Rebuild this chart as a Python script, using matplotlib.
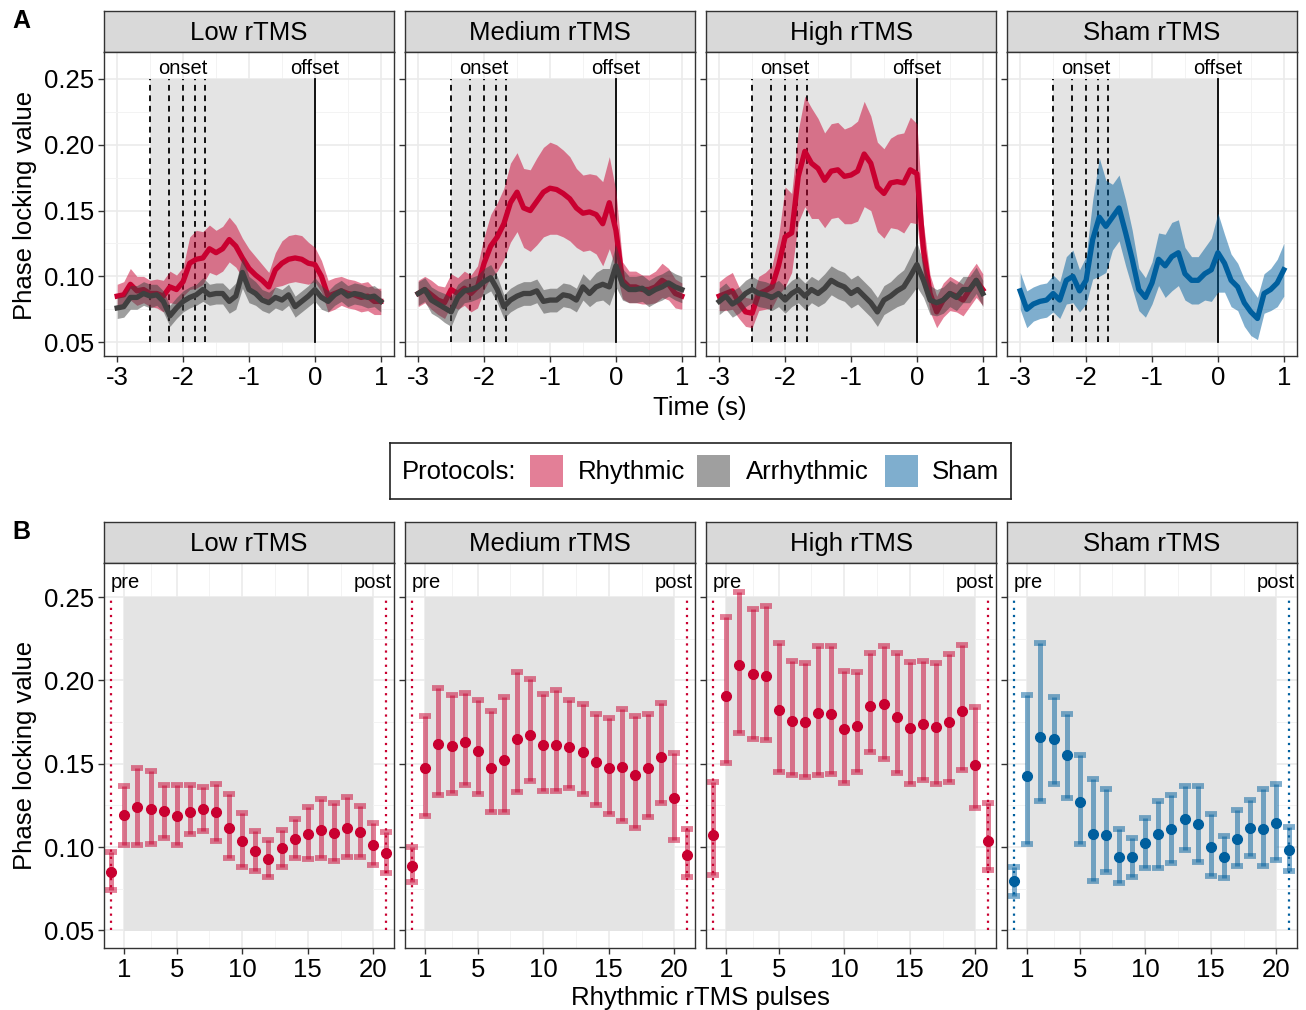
import matplotlib.pyplot as plt
from matplotlib.patches import Rectangle
import numpy as np

plt.rcParams['font.family'] = ['Liberation Sans', 'DejaVu Sans']
plt.rcParams['axes.unicode_minus'] = False

# ---------------- data ----------------
panels = ['Low rTMS', 'Medium rTMS', 'High rTMS', 'Sham rTMS']
time = np.round(np.arange(-3.0, 1.001, 0.1), 1)
onset_times = [-2.5, -2.22, -2.0, -1.82, -1.67]

# panel A: mean PLV and half-width of the ribbon
low_rhy = [0.085, 0.086, 0.094, 0.089, 0.090, 0.087, 0.087, 0.085, 0.092, 0.090, 0.096,
           0.110, 0.113, 0.114, 0.121, 0.118, 0.121, 0.128, 0.123, 0.114, 0.106,
           0.101, 0.097, 0.092, 0.105, 0.110, 0.113, 0.114, 0.113, 0.110, 0.109,
           0.100, 0.085, 0.087, 0.089, 0.087, 0.086, 0.084, 0.085, 0.081, 0.081]
low_rhy_se = [0.009, 0.010, 0.012, 0.011, 0.010, 0.010, 0.011, 0.012, 0.012, 0.011, 0.011,
              0.020, 0.022, 0.020, 0.018, 0.017, 0.017, 0.017, 0.016, 0.015, 0.015,
              0.014, 0.012, 0.011, 0.013, 0.017, 0.018, 0.018, 0.018, 0.016, 0.013,
              0.012, 0.012, 0.012, 0.011, 0.011, 0.011, 0.011, 0.011, 0.010, 0.010]
low_arr = [0.076, 0.077, 0.084, 0.084, 0.087, 0.085, 0.086, 0.081, 0.070, 0.076, 0.081,
           0.084, 0.086, 0.090, 0.086, 0.087, 0.087, 0.081, 0.085, 0.103, 0.090,
           0.087, 0.082, 0.080, 0.084, 0.082, 0.086, 0.077, 0.081, 0.085, 0.090,
           0.084, 0.081, 0.086, 0.089, 0.085, 0.087, 0.086, 0.084, 0.085, 0.081]
low_arr_se = [0.008, 0.008, 0.009, 0.009, 0.009, 0.009, 0.008, 0.008, 0.008, 0.008, 0.008,
              0.008, 0.008, 0.009, 0.008, 0.008, 0.008, 0.009, 0.010, 0.012, 0.010,
              0.009, 0.008, 0.008, 0.008, 0.008, 0.008, 0.008, 0.008, 0.008, 0.009,
              0.009, 0.008, 0.008, 0.008, 0.008, 0.008, 0.008, 0.008, 0.008, 0.008]

med_rhy = [0.087, 0.090, 0.086, 0.082, 0.080, 0.090, 0.087, 0.091, 0.087, 0.092, 0.110,
           0.123, 0.130, 0.140, 0.156, 0.164, 0.152, 0.150, 0.157, 0.164, 0.167,
           0.166, 0.163, 0.159, 0.152, 0.148, 0.149, 0.147, 0.140, 0.156, 0.135,
           0.097, 0.092, 0.092, 0.090, 0.090, 0.092, 0.097, 0.094, 0.087, 0.085]
med_rhy_se = [0.010, 0.010, 0.011, 0.011, 0.012, 0.012, 0.012, 0.013, 0.014, 0.016, 0.020,
              0.024, 0.026, 0.027, 0.030, 0.030, 0.030, 0.031, 0.033, 0.034, 0.035,
              0.034, 0.033, 0.032, 0.030, 0.029, 0.029, 0.030, 0.032, 0.035, 0.030,
              0.014, 0.012, 0.012, 0.011, 0.011, 0.012, 0.013, 0.012, 0.011, 0.010]
med_arr = [0.087, 0.090, 0.082, 0.079, 0.076, 0.073, 0.084, 0.089, 0.090, 0.092, 0.096,
           0.099, 0.090, 0.077, 0.082, 0.085, 0.087, 0.087, 0.089, 0.081, 0.082,
           0.082, 0.086, 0.085, 0.082, 0.092, 0.087, 0.092, 0.094, 0.092, 0.108,
           0.094, 0.090, 0.090, 0.091, 0.087, 0.090, 0.092, 0.095, 0.092, 0.090]
med_arr_se = [0.009, 0.009, 0.010, 0.010, 0.011, 0.011, 0.010, 0.009, 0.009, 0.009, 0.010,
              0.010, 0.010, 0.009, 0.009, 0.009, 0.009, 0.009, 0.009, 0.009, 0.009,
              0.009, 0.009, 0.009, 0.009, 0.010, 0.010, 0.011, 0.012, 0.014, 0.016,
              0.012, 0.010, 0.010, 0.010, 0.010, 0.010, 0.010, 0.010, 0.010, 0.010]

high_rhy = [0.085, 0.087, 0.089, 0.080, 0.073, 0.072, 0.087, 0.089, 0.092, 0.108, 0.130,
            0.133, 0.176, 0.195, 0.186, 0.182, 0.173, 0.180, 0.181, 0.176, 0.177,
            0.180, 0.193, 0.186, 0.168, 0.163, 0.171, 0.172, 0.171, 0.181, 0.178,
            0.120, 0.087, 0.073, 0.082, 0.087, 0.085, 0.082, 0.090, 0.097, 0.090]
high_rhy_se = [0.011, 0.013, 0.014, 0.012, 0.011, 0.011, 0.013, 0.014, 0.016, 0.022, 0.038,
               0.030, 0.035, 0.042, 0.042, 0.038, 0.036, 0.036, 0.036, 0.036, 0.037,
               0.038, 0.040, 0.036, 0.034, 0.034, 0.034, 0.036, 0.038, 0.040, 0.038,
               0.020, 0.014, 0.012, 0.013, 0.013, 0.012, 0.012, 0.013, 0.013, 0.012]
high_arr = [0.081, 0.085, 0.079, 0.082, 0.087, 0.090, 0.087, 0.086, 0.084, 0.087, 0.082,
            0.087, 0.090, 0.085, 0.090, 0.087, 0.091, 0.097, 0.094, 0.092, 0.087,
            0.090, 0.085, 0.080, 0.073, 0.082, 0.085, 0.089, 0.092, 0.100, 0.109,
            0.097, 0.082, 0.080, 0.082, 0.087, 0.084, 0.090, 0.090, 0.097, 0.087]
high_arr_se = [0.010, 0.010, 0.010, 0.010, 0.010, 0.010, 0.010, 0.010, 0.010, 0.010, 0.010,
               0.010, 0.010, 0.010, 0.010, 0.010, 0.011, 0.011, 0.011, 0.011, 0.011,
               0.011, 0.011, 0.011, 0.011, 0.011, 0.011, 0.012, 0.013, 0.015, 0.017,
               0.013, 0.011, 0.010, 0.010, 0.010, 0.010, 0.010, 0.010, 0.010, 0.010]

sham = [0.089, 0.075, 0.079, 0.081, 0.082, 0.087, 0.082, 0.097, 0.100, 0.089, 0.097,
        0.128, 0.145, 0.138, 0.145, 0.152, 0.133, 0.113, 0.090, 0.084, 0.095,
        0.113, 0.108, 0.115, 0.118, 0.102, 0.097, 0.097, 0.102, 0.105, 0.118,
        0.110, 0.097, 0.092, 0.080, 0.073, 0.068, 0.087, 0.090, 0.095, 0.105]
sham_se = [0.014, 0.014, 0.013, 0.013, 0.013, 0.014, 0.014, 0.018, 0.020, 0.016, 0.018,
           0.030, 0.045, 0.035, 0.025, 0.025, 0.025, 0.022, 0.016, 0.015, 0.016,
           0.020, 0.024, 0.026, 0.025, 0.020, 0.018, 0.018, 0.020, 0.024, 0.030,
           0.022, 0.020, 0.018, 0.018, 0.018, 0.016, 0.015, 0.016, 0.018, 0.020]

# panel B: pre (0), pulses 1-20, post (21)
pulses = list(range(0, 22))
low_b = [0.085, 0.119, 0.124, 0.123, 0.1216, 0.1187, 0.1212, 0.1226, 0.1212, 0.1117, 0.1037,
         0.0974, 0.0928, 0.0994, 0.1051, 0.1077, 0.1103, 0.1087, 0.1117, 0.1091, 0.1011, 0.0962]
low_b_lo = [0.0745, 0.1011, 0.1011, 0.1017, 0.1053, 0.1011, 0.1077, 0.1097, 0.1037, 0.0934, 0.0878,
            0.0854, 0.0818, 0.0878, 0.0934, 0.0928, 0.0934, 0.0918, 0.0942, 0.0942, 0.0894, 0.0844]
low_b_hi = [0.097, 0.1366, 0.1475, 0.1455, 0.1372, 0.1372, 0.1372, 0.1362, 0.138, 0.1316, 0.1206,
            0.1097, 0.1041, 0.1103, 0.117, 0.1242, 0.129, 0.1266, 0.1302, 0.1246, 0.1143, 0.1091]

med_b = [0.0888, 0.1475, 0.1618, 0.1608, 0.1628, 0.1575, 0.1475, 0.1521, 0.1648, 0.167, 0.161,
         0.161, 0.160, 0.1571, 0.1511, 0.1475, 0.1481, 0.1431, 0.1475, 0.1541, 0.1296, 0.0954]
med_b_lo = [0.0793, 0.1187, 0.131, 0.1322, 0.1372, 0.1316, 0.121, 0.121, 0.133, 0.1396, 0.1336,
            0.1336, 0.1356, 0.1316, 0.125, 0.1197, 0.1157, 0.1117, 0.1181, 0.1262, 0.1043, 0.0822]
med_b_hi = [0.0998, 0.1788, 0.1953, 0.1913, 0.1923, 0.1883, 0.1817, 0.1899, 0.2048, 0.2006, 0.1919,
            0.1943, 0.1883, 0.1857, 0.1797, 0.1774, 0.1827, 0.1784, 0.1797, 0.1867, 0.1565, 0.1107]

high_b = [0.1073, 0.1907, 0.2092, 0.2038, 0.2026, 0.1823, 0.1758, 0.175, 0.1803, 0.180, 0.171,
          0.1728, 0.1847, 0.1859, 0.1778, 0.1714, 0.174, 0.1718, 0.175, 0.1817, 0.1495, 0.1037]
high_b_lo = [0.0832, 0.1505, 0.1684, 0.165, 0.164, 0.1451, 0.1431, 0.1419, 0.1435, 0.1439, 0.1386,
             0.1451, 0.1569, 0.1529, 0.1445, 0.1376, 0.1405, 0.1376, 0.1392, 0.1461, 0.1236, 0.0864]
high_b_hi = [0.1392, 0.2381, 0.253, 0.243, 0.2446, 0.2227, 0.2118, 0.2108, 0.2207, 0.2207, 0.2058,
             0.2052, 0.2166, 0.2205, 0.2166, 0.2112, 0.2118, 0.2106, 0.2158, 0.2215, 0.1839, 0.1266]

sham_b = [0.0795, 0.1425, 0.1664, 0.1648, 0.1555, 0.1272, 0.1077, 0.1073, 0.0942, 0.0938, 0.1023,
          0.1077, 0.1111, 0.1167, 0.1137, 0.1001, 0.0938, 0.1047, 0.1113, 0.1111, 0.1143, 0.0982]
sham_b_lo = [0.0709, 0.1021, 0.1276, 0.1382, 0.1292, 0.1021, 0.0795, 0.0848, 0.0785, 0.0822, 0.0874,
             0.0872, 0.0904, 0.0982, 0.0912, 0.0828, 0.0814, 0.0888, 0.0944, 0.0888, 0.0924, 0.0858]
sham_b_hi = [0.0878, 0.1913, 0.2225, 0.1903, 0.180, 0.1555, 0.1411, 0.1352, 0.1111, 0.1057, 0.1177,
             0.1276, 0.131, 0.1366, 0.1366, 0.1197, 0.1067, 0.122, 0.128, 0.1352, 0.138, 0.1123]

RED = '#C90030'
GRAY = '#404040'
BLUE = '#005F9E'
SHADE = '#e4e4e4'
BORDER = '#333333'
FS = 18.5

W, H = 1306, 1010
fig = plt.figure(figsize=(W / 100, H / 100), dpi=100)


def px_axes(x0, y0, x1, y1):
    return fig.add_axes([x0 / W, 1 - y1 / H, (x1 - x0) / W, (y1 - y0) / H])


def style(ax, show_y):
    ax.set_facecolor('white')
    ax.set_axisbelow(True)
    ax.grid(which='major', color='#ebebeb', lw=1.2)
    ax.grid(which='minor', color='#f3f3f3', lw=0.7)
    for s in ax.spines.values():
        s.set_color(BORDER)
        s.set_linewidth(1.0)
    ax.tick_params(which='major', direction='out', length=4, width=1, color=BORDER,
                   labelsize=FS, labelcolor='black', pad=3)
    ax.tick_params(which='minor', length=0)
    ax.set_ylim(0.0395, 0.2705)
    ax.set_yticks([0.05, 0.10, 0.15, 0.20, 0.25])
    ax.set_yticks([0.075, 0.125, 0.175, 0.225], minor=True)
    if show_y:
        ax.set_yticklabels(['0.05', '0.10', '0.15', '0.20', '0.25'])
    else:
        ax.tick_params(axis='y', labelleft=False)


def strip(x0, y0, x1, y1, label):
    s = px_axes(x0, y0, x1, y1)
    s.set_facecolor('#d9d9d9')
    s.set_xticks([])
    s.set_yticks([])
    for sp in s.spines.values():
        sp.set_color(BORDER)
        sp.set_linewidth(1.0)
    s.text(0.5, 0.47, label, ha='center', va='center', fontsize=FS, transform=s.transAxes)


lefts = [104, 405, 706, 1007]
pw = 290

top_series = [
    [(low_rhy, low_rhy_se, RED), (low_arr, low_arr_se, GRAY)],
    [(med_rhy, med_rhy_se, RED), (med_arr, med_arr_se, GRAY)],
    [(high_rhy, high_rhy_se, RED), (high_arr, high_arr_se, GRAY)],
    [(sham, sham_se, BLUE)],
]

for i, name in enumerate(panels):
    x0 = lefts[i]
    strip(x0, 11, x0 + pw, 52, name)
    ax = px_axes(x0, 52, x0 + pw, 356)
    style(ax, i == 0)
    ax.set_xlim(-3.2, 1.2)
    ax.set_xticks([-3, -2, -1, 0, 1])
    ax.set_xticks([-2.5, -1.5, -0.5, 0.5], minor=True)
    ax.add_patch(Rectangle((-2.5, 0.05), 2.5, 0.2, facecolor=SHADE, edgecolor='none', zorder=0.8))
    for t in onset_times:
        ax.plot([t, t], [0.05, 0.25], color='black', lw=1.3, ls=(0, (3.2, 2.6)), zorder=1)
    ax.plot([0, 0], [0.05, 0.25], color='black', lw=1.3, zorder=1)
    ax.text(-2.0, 0.2535, 'onset', ha='center', va='baseline', fontsize=14.5)
    ax.text(0.0, 0.2535, 'offset', ha='center', va='baseline', fontsize=14.5)
    for mean, se, col in top_series[i]:
        m = np.array(mean)
        e = np.array(se)
        ax.fill_between(time, m - e, m + e, color=col, alpha=0.5, lw=0, zorder=2)
        ax.plot(time, m, color=col, lw=3.8, zorder=2, solid_joinstyle='round')

bottom_series = [
    (low_b, low_b_lo, low_b_hi, RED),
    (med_b, med_b_lo, med_b_hi, RED),
    (high_b, high_b_lo, high_b_hi, RED),
    (sham_b, sham_b_lo, sham_b_hi, BLUE),
]

for i, name in enumerate(panels):
    x0 = lefts[i]
    strip(x0, 522, x0 + pw, 563, name)
    ax = px_axes(x0, 563, x0 + pw, 948)
    style(ax, i == 0)
    ax.set_xlim(-0.55, 21.58)
    ax.set_xticks([1, 5, 10, 15, 20])
    ax.set_xticks([3, 7.5, 12.5, 17.5], minor=True)
    ax.add_patch(Rectangle((1, 0.05), 19, 0.2, facecolor=SHADE, edgecolor='none', zorder=0.8))
    mean, lo, hi, col = bottom_series[i]
    m = np.array(mean)
    ax.plot([0, 0], [0.05, 0.25], color=col, lw=1.6, ls=(0, (1, 2.2)), zorder=1)
    ax.plot([21, 21], [0.05, 0.25], color=col, lw=1.6, ls=(0, (1, 2.2)), zorder=1)
    ax.text(-0.05, 0.2555, 'pre', ha='left', va='baseline', fontsize=14.5)
    ax.text(21.45, 0.2555, 'post', ha='right', va='baseline', fontsize=14.5)
    ax.errorbar(pulses, m, yerr=[m - np.array(lo), np.array(hi) - m], fmt='none',
                ecolor=col, alpha=0.5, elinewidth=3.6, capsize=4.6, capthick=4.2, zorder=2)
    ax.plot(pulses, m, 'o', color=col, ms=7, zorder=3)

# panel labels and axis titles
fig.text(12 / W, 1 - 21 / H, 'A', fontsize=18, fontweight='bold', va='center')
fig.text(12 / W, 1 - 532 / H, 'B', fontsize=18, fontweight='bold', va='center')
fig.text(25 / W, 1 - 205 / H, 'Phase locking value', rotation=90, fontsize=FS,
         ha='center', va='center')
fig.text(25 / W, 1 - 755 / H, 'Phase locking value', rotation=90, fontsize=FS,
         ha='center', va='center')
fig.text(700 / W, 1 - 408 / H, 'Time (s)', fontsize=FS, ha='center', va='center')
fig.text(700 / W, 1 - 998 / H, 'Rhythmic rTMS pulses', fontsize=FS, ha='center', va='center')

# legend
lg = px_axes(390, 443, 1011, 499)
lg.set_xlim(0, 621)
lg.set_ylim(56, 0)
lg.set_xticks([])
lg.set_yticks([])
for sp in lg.spines.values():
    sp.set_color('#222222')
    sp.set_linewidth(1.2)
lg.text(12, 29, 'Protocols:', fontsize=FS, va='center', ha='left')
keys = [(140, RED, 'Rhythmic', 188), (307, GRAY, 'Arrhythmic', 356), (495, BLUE, 'Sham', 542)]
for kx, col, lab, tx in keys:
    lg.add_patch(Rectangle((kx, 12), 33, 32, facecolor=col, alpha=0.5, edgecolor='none'))
    lg.text(tx, 29, lab, fontsize=FS, va='center', ha='left')

fig.savefig('out.png', dpi=100)
plt.close(fig)
